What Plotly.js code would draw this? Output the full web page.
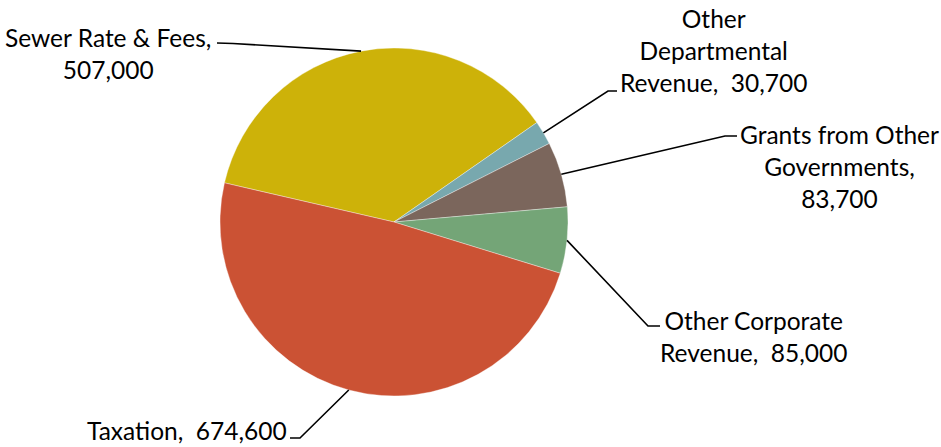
<!DOCTYPE html>
<html>
<head>
<meta charset="utf-8">
<script src="https://cdn.plot.ly/plotly-3.0.1.min.js"></script>
<style>html,body{margin:0;padding:0;background:#fff;}#chart{width:941px;height:447px;}</style>
</head>
<body>
<div id="chart"></div>
<script>
// ---- data ----
const categories = ['Sewer Rate & Fees', 'Other Departmental Revenue', 'Grants from Other Governments', 'Other Corporate Revenue', 'Taxation'];
const values = [507000, 30700, 83700, 85000, 674600];
const labelTemplates = [
  'Sewer Rate & Fees,<br>{v}',
  'Other<br>Departmental<br>Revenue,\u00a0 {v}',
  'Grants from Other<br>Governments,<br>{v}',
  'Other Corporate<br>Revenue,\u00a0 {v}',
  'Taxation,\u00a0 {v}'
];
const colors = ['#cdb209', '#78a8ae', '#7b665c', '#74a577', '#cb5234'];

// ---- layout / styling ----
const W = 941, H = 447;
const CX = 394, CY = 222, R = 174;       // pie centre and radius (px)
const ROT = -77;                          // start angle (deg, clockwise from 12 o'clock)
const labelPos = [[108, 53], [713, 50], [839, 166], [753, 336], [187, 430]];
const elbows = [
  [[233, 43.5], [217, 43]],
  [[608, 91], [617, 91]],
  [[725, 136], [737, 136]],
  [[648, 326], [660, 326]],
  [[300, 438], [290, 438]]
];
const FONT = 'Lato, "Open Sans", sans-serif';

const px = x => x / W;
const py = y => 1 - y / H;

const total = values.reduce((a, b) => a + b, 0);
let cum = 0;
const shapes = [], annotations = [];
values.forEach((v, i) => {
  const mid = ROT + (cum + v / 2) / total * 360;
  cum += v;
  const a = mid * Math.PI / 180;
  const ex = CX + R * Math.sin(a), ey = CY - R * Math.cos(a);
  const [e1, e2] = elbows[i];
  shapes.push({
    type: 'path', xref: 'paper', yref: 'paper',
    path: `M ${px(ex)} ${py(ey)} L ${px(e1[0])} ${py(e1[1])} L ${px(e2[0])} ${py(e2[1])}`,
    line: {color: '#000', width: 1.6}
  });
  annotations.push({
    xref: 'paper', yref: 'paper', x: px(labelPos[i][0]), y: py(labelPos[i][1]),
    xanchor: 'center', yanchor: 'middle', align: 'center', showarrow: false,
    text: labelTemplates[i].replace('{v}', v.toLocaleString('en-US')),
    font: {family: FONT, size: 24.5, color: '#000'}
  });
});

const trace = {
  type: 'pie',
  labels: categories,
  values: values,
  sort: false,
  direction: 'clockwise',
  rotation: ROT,
  textinfo: 'none',
  hoverinfo: 'label+value',
  marker: {colors: colors, line: {color: 'rgba(255,255,255,0.45)', width: 0.8}},
  domain: {x: [px(CX - R), px(CX + R)], y: [py(CY + R), py(CY - R)]},
  showlegend: false
};

Plotly.newPlot('chart', [trace], {
  width: W, height: H,
  margin: {l: 0, r: 0, t: 0, b: 0, pad: 0},
  paper_bgcolor: '#fff',
  showlegend: false,
  shapes: shapes,
  annotations: annotations
}, {staticPlot: true, displayModeBar: false});
</script>
</body>
</html>
